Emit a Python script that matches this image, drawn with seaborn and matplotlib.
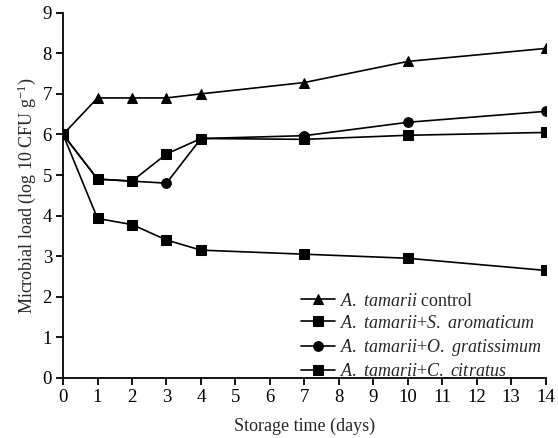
import numpy as np
import pandas as pd
import matplotlib
matplotlib.use("Agg")
import matplotlib.pyplot as plt
import seaborn as sns

days = [0, 1, 2, 3, 4, 7, 10, 14]
control = [6.0, 6.9, 6.9, 6.9, 7.0, 7.28, 7.8, 8.12]
s_aromaticum = [6.0, 3.93, 3.78, 3.4, 3.15, 3.05, 2.95, 2.65]
o_gratissimum = [6.0, 4.9, 4.85, 4.8, 5.9, 5.97, 6.3, 6.57]
c_citratus = [6.0, 4.9, 4.85, 5.52, 5.9, 5.88, 5.98, 6.05]

series_names = ["control", "S. aromaticum", "O. gratissimum", "C. citratus"]
series_values = [control, s_aromaticum, o_gratissimum, c_citratus]
legend_labels = [
    r"$\mathit{A.\ tamarii}$ control",
    r"$\mathit{A.\ tamarii}$+$\mathit{S.\ aromaticum}$",
    r"$\mathit{A.\ tamarii}$+$\mathit{O.\ gratissimum}$",
    r"$\mathit{A.\ tamarii}$+$\mathit{C.\ citratus}$",
]

rows = []
for name, vals in zip(series_names, series_values):
    for d, v in zip(days, vals):
        rows.append((name, d, v))
df = pd.DataFrame(rows, columns=["Treatment", "Day", "Load"])

sns.set_style("ticks")
plt.rcParams["font.family"] = ["Liberation Serif", "DejaVu Serif"]
plt.rcParams["mathtext.fontset"] = "custom"
plt.rcParams["mathtext.rm"] = "Liberation Serif"
plt.rcParams["mathtext.it"] = "Liberation Serif:italic"

fig = plt.figure(figsize=(5.58, 4.38), dpi=100)
ax = fig.add_axes([0.113, 0.137, 0.865, 0.834])

markers = {"control": "^", "S. aromaticum": "s", "O. gratissimum": "o", "C. citratus": "s"}
sns.lineplot(data=df, x="Day", y="Load", hue="Treatment", style="Treatment",
             hue_order=series_names, style_order=series_names,
             palette=["black"] * 4, markers=markers, dashes=False,
             markersize=7, linewidth=1.2, markeredgecolor="black", ax=ax)

ax.set_xlim(0, 14)
ax.set_ylim(0, 9)
ax.set_xticks(range(0, 15))
ax.set_yticks(range(0, 10))
ax.tick_params(direction="out", length=5, width=1.3, labelsize=13.5, colors="black", pad=3)
for s in ["left", "bottom"]:
    ax.spines[s].set_linewidth(1.3)
    ax.spines[s].set_color("black")
sns.despine(ax=ax)
for lab in ax.get_xticklabels() + ax.get_yticklabels():
    lab.set_clip_on(False)

ax.set_xlabel("Storage time (days)", fontsize=13, labelpad=8)
ax.set_ylabel(r"Microbial load (log 10 CFU g$^{-1}$)", fontsize=13, labelpad=3)

handles, _ = ax.get_legend_handles_labels()
ax.legend(handles[-4:], legend_labels, loc="lower right", frameon=False,
          fontsize=13, handlelength=1.9, handletextpad=0.25, labelspacing=0.28,
          borderaxespad=0.0, bbox_to_anchor=(1.005, -0.025))

fig.savefig("out.png", dpi=100)
